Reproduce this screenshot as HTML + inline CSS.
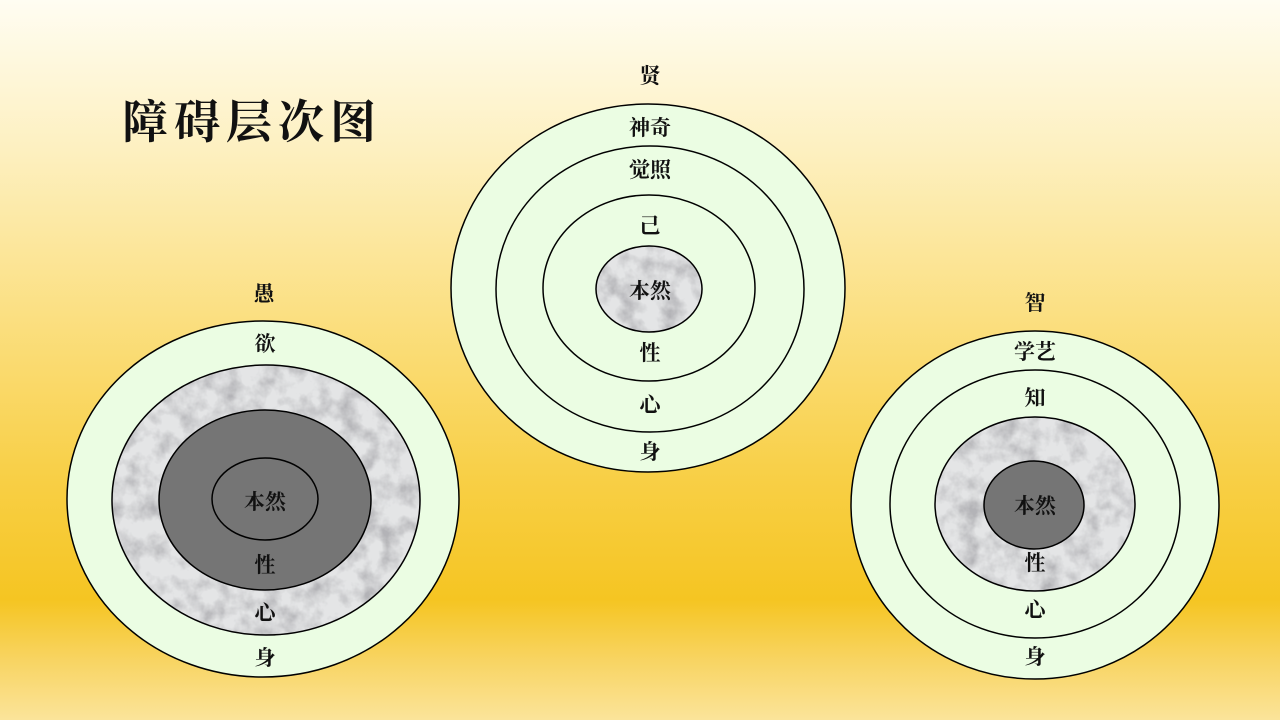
<!DOCTYPE html>
<html><head><meta charset="utf-8"><style>
html,body{margin:0;padding:0;width:1280px;height:720px;overflow:hidden}
body{background:linear-gradient(to bottom,#fffdf2 0px,#fdf0c0 150px,#fbdf80 320px,#f8cf45 480px,#f5c522 600px,#f8d462 660px,#fbe49a 720px)}
svg{position:absolute;left:0;top:0}
text{font-family:"Liberation Serif","Noto Serif CJK SC","Noto Sans CJK SC",serif;font-weight:bold;fill:#111;text-anchor:middle}
</style></head><body>
<svg width="1280" height="720" viewBox="0 0 1280 720">
<defs>
<filter id="m" filterUnits="userSpaceOnUse" x="0" y="0" width="1280" height="720">
<feTurbulence type="fractalNoise" baseFrequency="0.05" numOctaves="4" seed="3" result="n"/>
<feColorMatrix in="n" type="matrix" values="0 0 0 0 0.45  0 0 0 0 0.45  0 0 0 0 0.47  -2.2 0 0 0 1.35" result="c"/>
<feFlood flood-color="#e4e5e6" result="bg"/>
<feMerge result="mm"><feMergeNode in="bg"/><feMergeNode in="c"/></feMerge>
<feComposite in="mm" in2="SourceGraphic" operator="in"/>
</filter>
</defs>
<g stroke="#000" stroke-width="1.5">
<!-- left -->
<ellipse cx="263" cy="499" rx="196" ry="178" fill="#ebfde3"/>
<ellipse cx="266" cy="500" rx="154" ry="135" fill="#ccc" filter="url(#m)"/>
<ellipse cx="266" cy="500" rx="154" ry="135" fill="none"/>
<ellipse cx="265" cy="500" rx="106" ry="90" fill="#757575"/>
<ellipse cx="265" cy="499" rx="53" ry="41" fill="#757575"/>
<!-- middle -->
<ellipse cx="648" cy="288" rx="197" ry="184" fill="#ebfde3"/>
<ellipse cx="650" cy="289" rx="154" ry="143" fill="#ebfde3"/>
<ellipse cx="649" cy="288" rx="106" ry="93" fill="#ebfde3"/>
<ellipse cx="649" cy="289" rx="53" ry="43" fill="#ccc" filter="url(#m)"/>
<ellipse cx="649" cy="289" rx="53" ry="43" fill="none"/>
<!-- right -->
<ellipse cx="1035" cy="505" rx="184" ry="174" fill="#ebfde3"/>
<ellipse cx="1035" cy="504" rx="145" ry="134" fill="#ebfde3"/>
<ellipse cx="1035" cy="504" rx="100" ry="87" fill="#ccc" filter="url(#m)"/>
<ellipse cx="1035" cy="504" rx="100" ry="87" fill="none"/>
<ellipse cx="1034" cy="505" rx="50" ry="44" fill="#757575"/>
</g>
<text x="252" y="138" style="font-size:46px;letter-spacing:6px">障碍层次图</text>
<g style="font-size:21px">
<text x="264" y="301">愚</text>
<text x="265" y="351">欲</text>
<text x="265" y="509">本然</text>
<text x="265" y="572">性</text>
<text x="265" y="620">心</text>
<text x="265" y="665">身</text>
<text x="650" y="83">贤</text>
<text x="650" y="135">神奇</text>
<text x="650" y="177">觉照</text>
<text x="650" y="233">己</text>
<text x="650" y="298">本然</text>
<text x="650" y="360">性</text>
<text x="650" y="412">心</text>
<text x="650" y="459">身</text>
<text x="1035" y="310">智</text>
<text x="1035" y="359">学艺</text>
<text x="1035" y="405">知</text>
<text x="1035" y="513">本然</text>
<text x="1035" y="570">性</text>
<text x="1035" y="617">心</text>
<text x="1035" y="664">身</text>
</g>
</svg>
</body></html>
